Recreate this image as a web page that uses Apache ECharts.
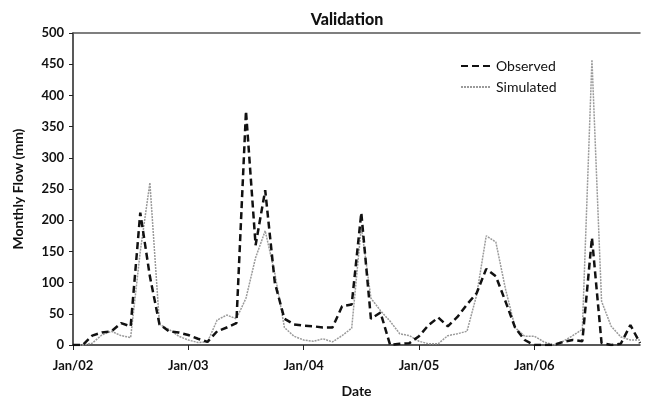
<!DOCTYPE html>
<html>
<head>
<meta charset="utf-8">
<script src="https://cdn.jsdelivr.net/npm/echarts@6/dist/echarts.min.js"></script>
<style>html,body{margin:0;padding:0;background:#fff}#c{width:645px;height:403px}</style>
</head>
<body>
<div id="c"></div>
<script>
var years = ['02','03','04','05','06'];
var monthNames = ['Jan','Feb','Mar','Apr','May','Jun','Jul','Aug','Sep','Oct','Nov','Dec'];
var categories = [];
years.forEach(function(y){ monthNames.forEach(function(m){ categories.push(m + '/' + y); }); });

var observed = [
  0, 0, 15, 20, 22, 35, 30, 212, 110, 33, 22, 20,
  16, 10, 5, 22, 28, 35, 375, 160, 248, 100, 42, 33,
  31, 30, 28, 28, 62, 65, 212, 42, 52, 0, 2, 3,
  14, 32, 44, 30, 45, 65, 83, 122, 110, 70, 28, 8,
  0, 0, 0, 5, 8, 6, 172, 3, 0, 2, 32, 3
];
var simulated = [
  0, 0, 3, 16, 22, 15, 12, 150, 260, 33, 25, 14,
  8, 4, 5, 40, 48, 42, 75, 140, 183, 115, 28, 14,
  8, 6, 10, 5, 15, 27, 190, 75, 55, 38, 18, 15,
  6, 2, 2, 15, 18, 22, 80, 175, 165, 90, 28, 14,
  14, 5, 0, 6, 15, 25, 457, 70, 30, 13, 8, 8
];
var yTicks = [0, 50, 100, 150, 200, 250, 300, 350, 400, 450, 500];

var FONT = 'Lato';
var chart = echarts.init(document.getElementById('c'), null, {renderer: 'canvas'});
chart.setOption({
  animation: false,
  backgroundColor: '#fff',
  title: {
    text: 'Validation', left: 342, top: 7, textAlign: 'center',
    textStyle: {fontFamily: FONT, fontWeight: 900, fontSize: 16, color: '#111'}
  },
  legend: {
    left: 455, top: 54, orient: 'vertical', itemGap: 7, itemWidth: 30, itemHeight: 14,
    textStyle: {fontFamily: FONT, fontSize: 14, color: '#111', padding: [0, 0, 0, 0]},
    itemStyle: {opacity: 0},
    data: ['Observed', 'Simulated']
  },
  grid: {left: 73, right: 5, top: 33, bottom: 57, containLabel: false},
  xAxis: [{
    type: 'category', data: categories, boundaryGap: false,
    name: 'Date', nameLocation: 'middle', nameGap: 39,
    nameTextStyle: {fontFamily: FONT, fontWeight: 'bold', fontSize: 14, color: '#111'},
    axisLine: {lineStyle: {color: '#222', width: 1.5}},
    axisTick: {interval: 11, length: 5, lineStyle: {color: '#222'}},
    axisLabel: {interval: 11, margin: 14, fontFamily: FONT, fontWeight: 'bold', fontSize: 13, color: '#111'},
    splitLine: {show: false}
  }, {
    type: 'category', data: categories, boundaryGap: false, position: 'top',
    axisLine: {lineStyle: {color: '#555', width: 1.5}},
    axisTick: {show: false}, axisLabel: {show: false}, splitLine: {show: false}
  }],
  yAxis: {
    type: 'value', min: yTicks[0], max: yTicks[yTicks.length - 1], interval: 50,
    name: 'Monthly Flow (mm)', nameLocation: 'middle', nameGap: 48, nameRotate: 90,
    nameTextStyle: {fontFamily: FONT, fontWeight: 'bold', fontSize: 14, color: '#111'},
    axisLine: {show: true, lineStyle: {color: '#222', width: 1.5}},
    axisTick: {show: true, length: 4, lineStyle: {color: '#222'}},
    axisLabel: {margin: 9, fontFamily: FONT, fontWeight: 'bold', fontSize: 13, color: '#111'},
    splitLine: {show: false}
  },
  series: [{
    name: 'Observed', type: 'line', data: observed, symbol: 'none', smooth: false,
    lineStyle: {color: '#111', width: 2.5, type: [7, 4]},
    itemStyle: {color: '#111'}, z: 3
  }, {
    name: 'Simulated', type: 'line', data: simulated, symbol: 'none', smooth: false,
    lineStyle: {color: '#9a9a9a', width: 1.5, type: [2, 1]},
    itemStyle: {color: '#9a9a9a'}, z: 2
  }]
});
</script>
</body>
</html>
